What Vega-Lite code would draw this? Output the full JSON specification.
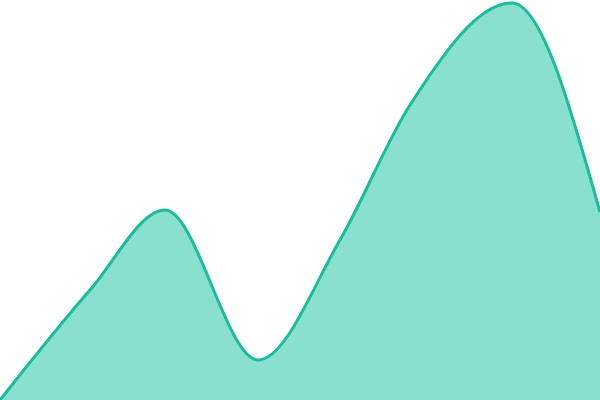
{
  "$schema": "https://vega.github.io/schema/vega-lite/v6.json",
  "width": 600,
  "height": 400,
  "padding": 0,
  "autosize": {"type": "none"},
  "background": "white",
  "config": {"view": {"stroke": null}},
  "data": {
    "values": [
      {"x": 0, "value": 0},
      {"x": 90, "value": 110},
      {"x": 165, "value": 190},
      {"x": 258, "value": 40},
      {"x": 340, "value": 160},
      {"x": 410, "value": 295},
      {"x": 512, "value": 397},
      {"x": 600, "value": 188}
    ]
  },
  "mark": {
    "type": "area",
    "interpolate": "monotone",
    "color": "#89e0cf",
    "opacity": 1,
    "line": {"color": "#1abc9c", "strokeWidth": 3}
  },
  "encoding": {
    "x": {
      "field": "x",
      "type": "quantitative",
      "scale": {"domain": [0, 600], "nice": false, "zero": false},
      "axis": null
    },
    "y": {
      "field": "value",
      "type": "quantitative",
      "scale": {"domain": [0, 400], "nice": false},
      "axis": null
    }
  }
}
